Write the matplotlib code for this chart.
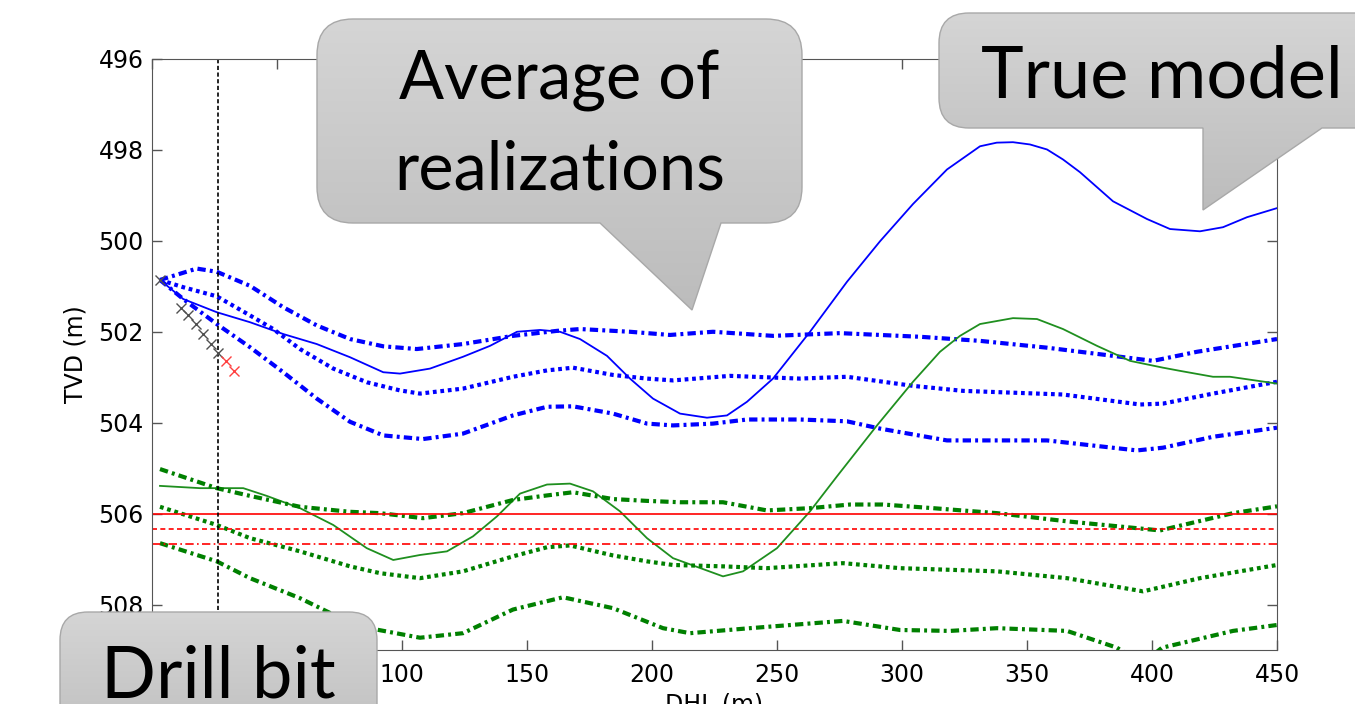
#!/usr/bin/env python3
"""TVD a lo largo del pozo: modelo verdadero, promedio de realizaciones y la broca."""
import numpy as np
import matplotlib
matplotlib.use("Agg")
import matplotlib.pyplot as plt
from matplotlib.path import Path
from matplotlib.patches import PathPatch
from matplotlib.colors import LinearSegmentedColormap

# --- datos (DHL en m, TVD en m) ---
true_top_x = [3.2, 12.5, 25.9, 39.2, 52.5, 65.9, 79.2, 92.5, 99.2, 111.2, 124.4, 135.2, 146, 155.2,
              163.2, 171.2, 182, 191.2, 200.4, 211.2, 222, 230, 238, 248.4, 263.2, 278, 291.2, 304.4,
              318, 331.2, 337.9, 344.4, 351.2, 358, 364.4, 371.2, 384.4, 398, 407.2, 419.2, 428.4,
              438, 450]
true_top_y = [500.86, 501.28, 501.57, 501.79, 502.05, 502.27, 502.56, 502.89, 502.92, 502.81, 502.55,
              502.31, 502.00, 501.96, 502.00, 502.16, 502.53, 503.03, 503.47, 503.80, 503.89, 503.84,
              503.54, 503.03, 502.00, 500.90, 500.01, 499.19, 498.43, 497.92, 497.84, 497.83, 497.88,
              497.99, 498.21, 498.49, 499.13, 499.52, 499.74, 499.79, 499.70, 499.48, 499.28]

avg_top_upper_x = [3.2, 17.9, 25.9, 39.2, 52.5, 65.9, 79.2, 92.5, 105.9, 124.4, 144.4, 162, 171.2,
                   191.2, 207.2, 224.4, 248.4, 275.2, 307.2, 331.2, 358, 384.4, 400.4, 418, 450]
avg_top_upper_y = [500.86, 500.61, 500.68, 500.99, 501.46, 501.86, 502.16, 502.32, 502.38, 502.27,
                   502.09, 501.98, 501.94, 502.00, 502.07, 502.00, 502.09, 502.03, 502.11, 502.20,
                   502.35, 502.53, 502.64, 502.44, 502.16]

avg_top_x = [3.2, 12.5, 25.9, 39.2, 48.5, 59.2, 72.5, 85.9, 99.2, 107.2, 124.4, 144.4, 158, 168.4,
             184.4, 198, 208.4, 231.2, 259.2, 278, 304.4, 324.4, 364.4, 395.2, 404.4, 424.4, 450]
avg_top_y = [500.86, 501.02, 501.22, 501.64, 501.94, 502.38, 502.81, 503.11, 503.29, 503.36, 503.25,
             502.99, 502.85, 502.79, 502.95, 503.03, 503.07, 502.97, 503.03, 502.99, 503.19, 503.30,
             503.38, 503.60, 503.58, 503.36, 503.10]

avg_top_lower_x = [3.2, 12.5, 25.9, 39.2, 52.5, 65.9, 79.2, 92.5, 108.4, 124.4, 144.4, 158, 168.4,
                   184.4, 198, 208.4, 224.4, 238, 259.2, 278, 291.2, 318, 358, 394, 404.4, 424.4, 450]
avg_top_lower_y = [500.86, 501.28, 501.83, 502.34, 502.89, 503.47, 503.98, 504.28, 504.36, 504.24,
                   503.84, 503.65, 503.64, 503.80, 504.02, 504.06, 504.02, 503.93, 503.93, 503.97,
                   504.13, 504.39, 504.39, 504.61, 504.55, 504.31, 504.11]

true_bot_x = [3.2, 19.2, 36.5, 45.9, 59.2, 72.5, 85.9, 96.5, 107.2, 118, 128.4, 138, 147.2, 158, 167.2,
              176.4, 187.2, 198, 208.4, 228.4, 236.4, 250, 263.2, 274, 290, 304.4, 315.2, 323.2, 331.2,
              344.4, 354, 364.4, 378, 391.2, 404.4, 411.2, 424.4, 431.2, 450]
true_bot_y = [505.39, 505.44, 505.44, 505.61, 505.88, 506.25, 506.76, 507.02, 506.91, 506.83, 506.50,
              506.06, 505.56, 505.36, 505.34, 505.51, 505.95, 506.54, 506.98, 507.38, 507.27, 506.76,
              505.95, 505.18, 504.06, 503.10, 502.44, 502.09, 501.83, 501.70, 501.72, 501.94, 502.31,
              502.64, 502.79, 502.86, 502.99, 502.99, 503.14]

avg_bot_upper_x = [3.2, 25.9, 39.2, 59.2, 79.2, 91.2, 108.4, 124.4, 144.4, 158, 168.4, 184.4, 198,
                   211.2, 228.4, 246, 263.2, 279.2, 292.4, 312.4, 338, 366, 403.2, 432.4, 450]
avg_bot_upper_y = [505.02, 505.44, 505.61, 505.85, 505.96, 505.99, 506.10, 505.99, 505.70, 505.60,
                   505.53, 505.68, 505.72, 505.75, 505.75, 505.93, 505.88, 505.80, 505.80, 505.88,
                   505.99, 506.17, 506.37, 505.99, 505.84]

avg_bot_x = [3.2, 25.9, 39.2, 59.2, 79.2, 91.2, 107.2, 124.4, 144.4, 158, 167.2, 184.4, 198, 208.4,
             228.4, 246, 276.4, 299.2, 338, 366, 396.4, 419.2, 450]
avg_bot_y = [505.85, 506.25, 506.54, 506.83, 507.16, 507.31, 507.42, 507.27, 506.94, 506.74, 506.70,
             506.92, 507.05, 507.13, 507.16, 507.20, 507.09, 507.20, 507.27, 507.42, 507.71, 507.42,
             507.13]

avg_bot_lower_x = [3.2, 25.9, 39.2, 59.2, 72.5, 85.9, 107.2, 124.4, 144.4, 164.4, 184.4, 204.4, 215.2,
                   239.2, 276.4, 299.2, 319.2, 338, 366, 386, 396, 404, 432.4, 450]
avg_bot_lower_y = [506.65, 507.05, 507.42, 507.86, 508.22, 508.51, 508.73, 508.63, 508.11, 507.84,
                   508.08, 508.52, 508.63, 508.52, 508.36, 508.56, 508.58, 508.52, 508.58, 508.95,
                   509.30, 508.95, 508.58, 508.45]

target_tvd = [506.0, 506.33, 506.66]

drilled_x = [3.2, 11.5, 14.5, 17.6, 20.5, 23.5, 26.5]
drilled_y = [500.86, 501.47, 501.64, 501.83, 502.04, 502.26, 502.46]
planned_x = [29.6, 32.8]
planned_y = [502.65, 502.87]
bit_dhl = 26.5

x_ticks = [0, 50, 100, 150, 200, 250, 300, 350, 400, 450]
# 0 y 50 quedan tapados por el globo "Drill bit"
x_tick_labels = ["", "", "100", "150", "200", "250", "300", "350", "400", "450"]
y_ticks = [496, 498, 500, 502, 504, 506, 508]

BLUE = "#0000ff"
GREEN = "#008000"
RED = "#ff0000"
DASHDOT = (0, (2.0, 1.0, 0.7, 1.0))
DOTTED = (0, (0.9, 0.9))

W, H = 1355, 704


def draw_main(ax):
    ax.plot(true_top_x, true_top_y, color=BLUE, lw=1.3)
    ax.plot(avg_top_upper_x, avg_top_upper_y, color=BLUE, lw=3, linestyle=DASHDOT)
    ax.plot(avg_top_x, avg_top_y, color=BLUE, lw=3, linestyle=DOTTED)
    ax.plot(avg_top_lower_x, avg_top_lower_y, color=BLUE, lw=3, linestyle=DASHDOT)

    ax.plot(true_bot_x, true_bot_y, color="#1f8f1f", lw=1.3)
    ax.plot(avg_bot_upper_x, avg_bot_upper_y, color=GREEN, lw=3, linestyle=DASHDOT)
    ax.plot(avg_bot_x, avg_bot_y, color=GREEN, lw=3, linestyle=DOTTED)
    ax.plot(avg_bot_lower_x, avg_bot_lower_y, color=GREEN, lw=3, linestyle=DASHDOT)

    for tvd, ls in zip(target_tvd, ["-", (0, (3, 2)), (0, (5, 2, 1, 2))]):
        ax.axhline(tvd, color=RED, lw=1.2, linestyle=ls)

    ax.axvline(bit_dhl, color="black", lw=1.2, linestyle=(0, (2.5, 1.5)))
    ax.plot(drilled_x, drilled_y, linestyle="", marker="x", color="#505050", markersize=7.5, mew=1.0)
    ax.plot(planned_x, planned_y, linestyle="", marker="x", color="#ff4040", markersize=7.5, mew=1.0)

    ax.set_xlim(0, 450)
    ax.set_ylim(509, 496)
    ax.set_xticks(x_ticks)
    ax.set_xticklabels(x_tick_labels)
    ax.set_yticks(y_ticks)
    ax.tick_params(direction="in", length=7, width=1, color="#555555", labelsize=17,
                   top=True, right=True)
    ax.tick_params(axis="x", pad=9)
    ax.tick_params(axis="y", pad=6)
    for spine in ax.spines.values():
        spine.set_color("#555555")
    ax.set_xlabel("DHL (m)", fontsize=17, labelpad=4)
    ax.set_ylabel("TVD (m)", fontsize=17, labelpad=8)


def callout_path(x0, y0, x1, y1, r, pointer=None):
    verts = [(x0 + r, y0), (x1 - r, y0), (x1, y0), (x1, y0 + r), (x1, y1 - r), (x1, y1), (x1 - r, y1)]
    codes = [Path.MOVETO, Path.LINETO, Path.CURVE3, Path.CURVE3, Path.LINETO, Path.CURVE3, Path.CURVE3]
    if pointer:
        bx0, bx1, tx, ty = pointer
        verts += [(bx1, y1), (tx, ty), (bx0, y1)]
        codes += [Path.LINETO] * 3
    verts += [(x0 + r, y1), (x0, y1), (x0, y1 - r), (x0, y0 + r), (x0, y0), (x0 + r, y0), (x0 + r, y0)]
    codes += [Path.LINETO, Path.CURVE3, Path.CURVE3, Path.LINETO, Path.CURVE3, Path.CURVE3, Path.CLOSEPOLY]
    return Path(verts, codes)


def draw_callout(ov, box, r, lines, size, pointer=None):
    x0, y0, x1, y1 = box
    path = callout_path(x0, y0, x1, y1, r, pointer)
    low = max(y1, pointer[3]) if pointer else y1
    cmap = LinearSegmentedColormap.from_list("box", ["#d5d5d5", "#bcbcbc"])
    im = ov.imshow(np.linspace(0, 1, 256).reshape(-1, 1), cmap=cmap, aspect="auto",
                   extent=(x0, x1, low, y0), origin="upper", zorder=5, interpolation="bilinear")
    patch = PathPatch(path, facecolor="none", edgecolor="#a8a8a8", lw=1.0, zorder=6)
    ov.add_patch(patch)
    im.set_clip_path(patch)
    for text, cx, base in lines:
        ov.text(cx, base, text, fontsize=size, family="Lato", ha="center", va="baseline",
                color="black", zorder=7)


def main():
    fig = plt.figure(figsize=(W / 100, H / 100), dpi=100)
    ax = fig.add_axes([152 / W, 1 - 650 / H, 1125 / W, 591 / H])
    draw_main(ax)

    ov = fig.add_axes([0, 0, 1, 1], zorder=10)
    ov.set_xlim(0, W)
    ov.set_ylim(H, 0)
    ov.set_autoscale_on(False)
    ov.axis("off")
    ov.patch.set_alpha(0)

    draw_callout(ov, (317, 19, 802, 223), 36,
                 [("Average of", 559, 100), ("realizations", 560, 190)], 48,
                 pointer=(600, 721, 692, 310))
    draw_callout(ov, (939, 13, 1420, 128), 30,
                 [("True model", 1162, 98)], 52,
                 pointer=(1203, 1322, 1203, 210))
    draw_callout(ov, (60, 612, 377, 760), 28,
                 [("Drill bit", 218, 697)], 52)

    fig.savefig("out.png", dpi=100)
    plt.close(fig)


if __name__ == "__main__":
    main()
